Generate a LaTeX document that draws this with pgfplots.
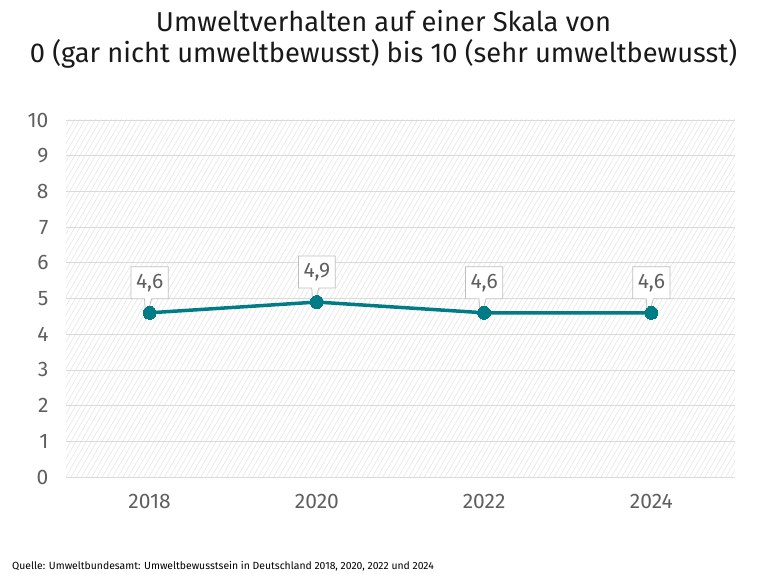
\documentclass[border=0pt]{standalone}
\usepackage{fontspec}
\setmainfont{Fira Sans}
\usepackage{pgfplots}
\pgfplotsset{compat=1.18}
\usetikzlibrary{patterns.meta,shapes.callouts}
\definecolor{teal1}{RGB}{0,124,134}
\definecolor{ticktxt}{RGB}{95,95,95}
\definecolor{gridc}{RGB}{218,218,218}
\definecolor{hatchc}{RGB}{232,232,232}
\begin{document}
\begin{tikzpicture}[x=1pt,y=1pt]
\path[use as bounding box] (0,0) rectangle (767,573);
\node[font=\fontsize{27.3}{30}\selectfont, color=black!90] at (383.5,552) {Umweltverhalten auf einer Skala von};
\node[font=\fontsize{27.3}{30}\selectfont, color=black!90] at (383.5,519) {0 (gar nicht umweltbewusst) bis 10 (sehr umweltbewusst)};
\node[font=\fontsize{10.4}{12}\selectfont, anchor=west, inner sep=0pt] at (12,7) {Quelle: Umweltbundesamt: Umweltbewusstsein in Deutschland 2018, 2020, 2022 und 2024};
\begin{axis}[
  at={(66pt,96pt)}, anchor=south west, scale only axis,
  width=669pt, height=357pt,
  xmin=2017, xmax=2025, ymin=0, ymax=10,
  xtick={2018,2020,2022,2024},
  xticklabels={2018,2020,2022,2024},
  ytick={0,1,2,3,4,5,6,7,8,9,10},
  yticklabels={0,1,2,3,4,5,6,7,8,9,10},
  axis line style={draw=none},
  tick style={draw=none},
  ymajorgrids,
  major grid style={gridc, line width=0.8pt},
  axis background/.style={pattern={Lines[angle=60,distance=4.5pt,line width=0.7pt]}, pattern color=hatchc},
  ticklabel style={font=\fontsize{21}{24}\selectfont, color=ticktxt},
  xticklabel style={yshift=-14pt},
  yticklabel style={xshift=-14pt},
  clip=false,
]
\addplot[draw=none, mark=none,
  point meta=explicit symbolic,
  nodes near coords,
  every node near coord/.style={anchor=center, yshift=30pt, rectangle callout, callout relative pointer={(-2pt,-20pt)},
    fill=white, draw=black!25, line width=0.8pt, text=ticktxt, font=\fontsize{21}{24}\selectfont,
    inner xsep=5pt, minimum height=32pt},
] coordinates {
  (2018,4.6) [4,6]
  (2020,4.9) [4,9]
  (2022,4.6) [4,6]
  (2024,4.6) [4,6]
};
\addplot[teal1, line width=3.5pt, mark=*, mark size=6.5pt, mark options={fill=teal1, draw=teal1, line width=0pt}] coordinates {
  (2018,4.6)
  (2020,4.9)
  (2022,4.6)
  (2024,4.6)
};
\end{axis}
\end{tikzpicture}
\end{document}
